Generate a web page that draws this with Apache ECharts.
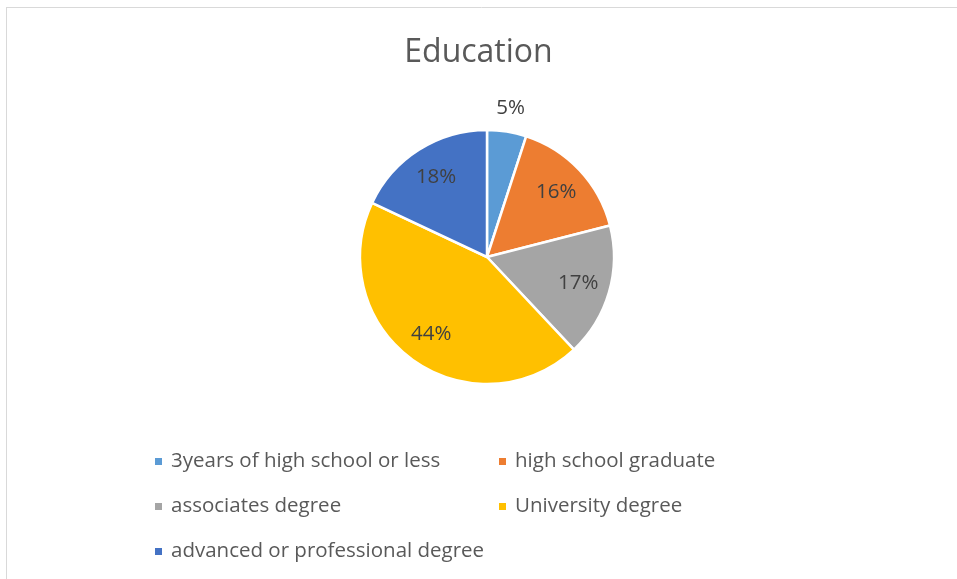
<!DOCTYPE html>
<html>
<head>
<meta charset="utf-8">
<script src="https://cdn.jsdelivr.net/npm/echarts@6/dist/echarts.min.js"></script>
<style>
  html, body { margin: 0; padding: 0; background: #fff; }
  #chart { width: 957px; height: 579px; }
</style>
</head>
<body>
<div id="chart"></div>
<script>
// data
const categories = [
  '3years of high school or less',
  'high school graduate',
  'associates degree',
  'University degree',
  'advanced or professional degree'
];
const values = [5, 16, 17, 44, 18];
const colors = ['#5B9BD5', '#ED7D31', '#A5A5A5', '#FFC000', '#4472C4'];

const chart = echarts.init(document.getElementById('chart'));

const textColor = '#595959';
const labelColor = '#404040';
const fontFamily = '"Open Sans", "Liberation Sans", sans-serif';

const pieData = categories.map((name, i) => ({
  name: name,
  value: values[i],
  itemStyle: {color: colors[i]}
}));

// transparent overlay rings: their "inside" labels land where Excel put them
const innerLabels = categories.map((name, i) => ({
  name: name,
  value: values[i],
  label: {show: values[i] >= 10}
}));
const outerLabels = categories.map((name, i) => ({
  name: name,
  value: values[i],
  label: {show: values[i] < 10}
}));

const legendBase = {
  orient: 'vertical',
  icon: 'rect',
  itemWidth: 9,
  itemHeight: 9,
  itemGap: 24,
  selectedMode: false,
  textStyle: {color: textColor, fontSize: 20.5, fontFamily: fontFamily, padding: [0, 0, 0, 3]}
};

function labelRing(radius, data) {
  return {
    type: 'pie',
    center: [487, 257],
    radius: [0, radius],
    startAngle: 90,
    clockwise: true,
    silent: true,
    z: 3,
    itemStyle: {color: 'rgba(0,0,0,0)', borderWidth: 0},
    label: {
      position: 'inside',
      formatter: '{c}%',
      color: labelColor,
      fontSize: 20.5,
      fontFamily: fontFamily
    },
    labelLine: {show: false},
    emphasis: {disabled: true},
    data: data
  };
}

chart.setOption({
  animation: false,
  title: {
    text: 'Education',
    left: 'center',
    top: 32,
    textStyle: {color: textColor, fontSize: 32, fontWeight: 'normal', fontFamily: fontFamily}
  },
  graphic: [
    {type: 'line', shape: {x1: 6, y1: 7.5, x2: 957, y2: 7.5}, style: {stroke: '#d9d9d9', lineWidth: 1}},
    {type: 'line', shape: {x1: 6.5, y1: 7, x2: 6.5, y2: 579}, style: {stroke: '#d9d9d9', lineWidth: 1}}
  ],
  legend: [
    Object.assign({}, legendBase, {
      left: 148,
      top: 446,
      data: [categories[0], categories[2], categories[4]]
    }),
    Object.assign({}, legendBase, {
      left: 492,
      top: 446,
      data: [categories[1], categories[3]]
    })
  ],
  series: [
    {
      type: 'pie',
      center: [487, 257],
      radius: [0, 127],
      startAngle: 90,
      clockwise: true,
      itemStyle: {borderColor: '#fff', borderWidth: 2.5},
      label: {show: false},
      labelLine: {show: false},
      emphasis: {disabled: true},
      data: pieData
    },
    labelRing(184, innerLabels),
    labelRing(296, outerLabels)
  ]
});
</script>
</body>
</html>
